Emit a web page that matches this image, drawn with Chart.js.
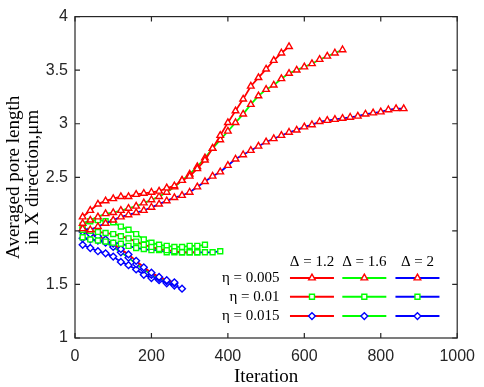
<!DOCTYPE html>
<html>
<head>
<meta charset="utf-8">
<script src="https://cdn.jsdelivr.net/npm/chart.js@4.4.1/dist/chart.umd.min.js"></script>
<style>
  html, body { margin: 0; padding: 0; background: #fff; }
</style>
</head>
<body>
<canvas id="chart" width="484" height="387"></canvas>
<script>
// shared iteration axis (every 20 iterations)
const iterations = [20, 40, 60, 80, 100, 120, 140, 160, 180, 200, 220, 240, 260, 280, 300,
  320, 340, 360, 380, 400, 420, 440, 460, 480, 500, 520, 540, 560, 580, 600, 620, 640, 660,
  680, 700, 720, 740, 760, 780, 800, 820, 840, 860];

// eta = 0.005 (triangles)
const tri12 = [2.13, 2.19, 2.25, 2.28, 2.30, 2.32, 2.32, 2.34, 2.35, 2.36, 2.37, 2.40, 2.42, 2.47,
  2.51, 2.58, 2.66, 2.77, 2.89, 3.01, 3.12, 3.23, 3.35, 3.43, 3.51, 3.59, 3.66, 3.72];
const tri16 = [2.07, 2.10, 2.13, 2.16, 2.17, 2.19, 2.21, 2.23, 2.26, 2.29, 2.32, 2.36, 2.41, 2.47,
  2.53, 2.60, 2.68, 2.77, 2.85, 2.93, 3.01, 3.09, 3.18, 3.26, 3.32, 3.36, 3.42, 3.47, 3.50, 3.53,
  3.56, 3.60, 3.63, 3.66, 3.69];
const tri20 = [2.02, 2.01, 2.04, 2.07, 2.10, 2.13, 2.15, 2.17, 2.19, 2.22, 2.25, 2.28, 2.31, 2.33,
  2.36, 2.41, 2.46, 2.51, 2.55, 2.61, 2.67, 2.71, 2.75, 2.79, 2.83, 2.86, 2.89, 2.92, 2.94, 2.97,
  2.99, 3.02, 3.03, 3.04, 3.05, 3.06, 3.07, 3.09, 3.10, 3.11, 3.13, 3.14, 3.14];

// eta = 0.01 (squares)
const sq12 = [2.01, 2.00, 1.99, 1.98, 1.97, 1.95, 1.93, 1.90, 1.87, 1.85, 1.83, 1.82, 1.81, 1.80,
  1.80, 1.80];
const sq16 = [2.05, 2.09, 2.10, 2.09, 2.08, 2.04, 2.01, 1.97, 1.92, 1.89, 1.87, 1.86, 1.85, 1.85,
  1.86, 1.86, 1.87];
const sq20 = [1.94, 1.92, 1.91, 1.90, 1.89, 1.88, 1.86, 1.84, 1.83, 1.82, 1.82, 1.80, 1.80, 1.80,
  1.80, 1.80, 1.80, 1.80, 1.81];

// eta = 0.015 (diamonds)
const dia12 = [1.99, 1.97, 1.95, 1.92, 1.88, 1.83, 1.78, 1.72, 1.66, 1.61, 1.57, 1.54, 1.52];
const dia16 = [1.93, 1.92, 1.91, 1.89, 1.85, 1.80, 1.75, 1.69, 1.64, 1.59, 1.56, 1.53, 1.51];
const dia20 = [1.87, 1.84, 1.81, 1.79, 1.76, 1.71, 1.68, 1.64, 1.59, 1.56, 1.54, 1.51, 1.49, 1.46];

const deltaLabels = ["\u0394 = 1.2", "\u0394 = 1.6", "\u0394 = 2"];
const etaLabels = ["\u03b7 = 0.005", "\u03b7 = 0.01", "\u03b7 = 0.015"];
const xTicks = [0, 200, 400, 600, 800, 1000];
const yTicks = [1, 1.5, 2, 2.5, 3, 3.5, 4];

const seriesByEta = [[tri12, tri16, tri20], [sq12, sq16, sq20], [dia12, dia16, dia20]];
const lineColors = ["#ff0000", "#00ff00", "#0000ff"];
const markerColors = ["#ff0000", "#00ff00", "#0000ff"];
const markerStyles = ["triangle", "rect", "rectRot"];
const markerRadius = [3.8, 3.5, 3.4];

const axisColor = "#262626";

const datasets = [];
seriesByEta.forEach((row, i) => {
  row.forEach((ys, j) => {
    datasets.push({
      label: deltaLabels[j] + ", " + etaLabels[i],
      data: ys.map((y, k) => ({ x: iterations[k], y: y })),
      borderColor: lineColors[j],
      borderWidth: 1.8,
      pointStyle: markerStyles[i],
      pointRadius: markerRadius[i],
      pointBorderColor: markerColors[i],
      pointBackgroundColor: "#ffffff",
      pointBorderWidth: 1.4,
      tension: 0,
      etaIndex: i,
      deltaIndex: j,
    });
  });
});

// box around the axes with inward ticks on all four sides
const framePlugin = {
  id: "frame",
  afterDatasetsDraw(chart) {
    const { ctx, chartArea: a, scales } = chart;
    ctx.save();
    ctx.strokeStyle = axisColor;
    ctx.lineWidth = 1.2;
    ctx.strokeRect(a.left, a.top, a.right - a.left, a.bottom - a.top);
    ctx.beginPath();
    xTicks.forEach((v) => {
      const x = scales.x.getPixelForValue(v);
      ctx.moveTo(x, a.bottom); ctx.lineTo(x, a.bottom - 5);
      ctx.moveTo(x, a.top); ctx.lineTo(x, a.top + 5);
    });
    yTicks.forEach((v) => {
      const y = scales.y.getPixelForValue(v);
      ctx.moveTo(a.left, y); ctx.lineTo(a.left + 5, y);
      ctx.moveTo(a.right, y); ctx.lineTo(a.right - 5, y);
    });
    ctx.stroke();
    ctx.restore();
  },
  afterDraw(chart) {
    // grid legend: columns = delta, rows = eta
    const { ctx, scales } = chart;
    const colX = [620, 757, 896].map((v) => scales.x.getPixelForValue(v));
    const rowY = [1.56, 1.385, 1.205].map((v) => scales.y.getPixelForValue(v));
    const headY = scales.y.getPixelForValue(1.71);
    const labelX = scales.x.getPixelForValue(535);
    const half = 22;
    ctx.save();
    ctx.font = "15px 'Liberation Serif', 'Times New Roman', serif";
    ctx.fillStyle = "#000";
    ctx.textBaseline = "middle";
    ctx.textAlign = "center";
    deltaLabels.forEach((t, j) => ctx.fillText(t, colX[j], headY));
    ctx.textAlign = "right";
    etaLabels.forEach((t, i) => ctx.fillText(t, labelX, rowY[i]));
    chart.data.datasets.forEach((ds) => {
      const x = colX[ds.deltaIndex];
      const y = rowY[ds.etaIndex];
      ctx.strokeStyle = ds.borderColor;
      ctx.lineWidth = 2;
      ctx.beginPath();
      ctx.moveTo(x - half, y);
      ctx.lineTo(x + half, y);
      ctx.stroke();
      ctx.strokeStyle = ds.pointBorderColor;
      ctx.fillStyle = ds.pointBackgroundColor;
      ctx.lineWidth = ds.pointBorderWidth;
      Chart.helpers.drawPoint(ctx, {
        pointStyle: ds.pointStyle,
        radius: ds.pointRadius,
        borderWidth: ds.pointBorderWidth,
        rotation: 0,
      }, x, y);
    });
    ctx.restore();
  },
};

const tickFont = { family: "'Liberation Sans', Arial, sans-serif", size: 16 };
const titleFont = { family: "'Liberation Serif', 'Times New Roman', serif", size: 19, lineHeight: 1 };
const plainLabel = (v) => String(v);

new Chart(document.getElementById("chart").getContext("2d"), {
  type: "line",
  data: { datasets: datasets },
  options: {
    responsive: false,
    animation: false,
    layout: { padding: { left: 0, right: 20, top: 6, bottom: 0 } },
    plugins: { legend: { display: false }, tooltip: { enabled: false } },
    scales: {
      x: {
        type: "linear",
        min: 0,
        max: 1000,
        afterBuildTicks: (s) => { s.ticks = xTicks.map((v) => ({ value: v })); },
        afterFit: (s) => { s.height = 49; },
        grid: { display: false, drawTicks: false },
        border: { display: false },
        ticks: { font: tickFont, color: axisColor, padding: 9, maxRotation: 0, callback: plainLabel },
        title: { display: true, text: "Iteration", font: titleFont, color: "#000", padding: { top: 0, bottom: 0 } },
      },
      y: {
        type: "linear",
        min: 1,
        max: 4,
        afterBuildTicks: (s) => { s.ticks = yTicks.map((v) => ({ value: v })); },
        afterFit: (s) => { s.width = 75; },
        grid: { display: false, drawTicks: false },
        border: { display: false },
        ticks: { font: tickFont, color: axisColor, padding: 7, callback: plainLabel },
        title: {
          display: true,
          text: ["Averaged pore length", "in X direction,\u03bcm"],
          font: titleFont,
          color: "#000",
          padding: { top: 4.5, bottom: 0 },
        },
      },
    },
  },
  plugins: [framePlugin],
});
</script>
</body>
</html>
